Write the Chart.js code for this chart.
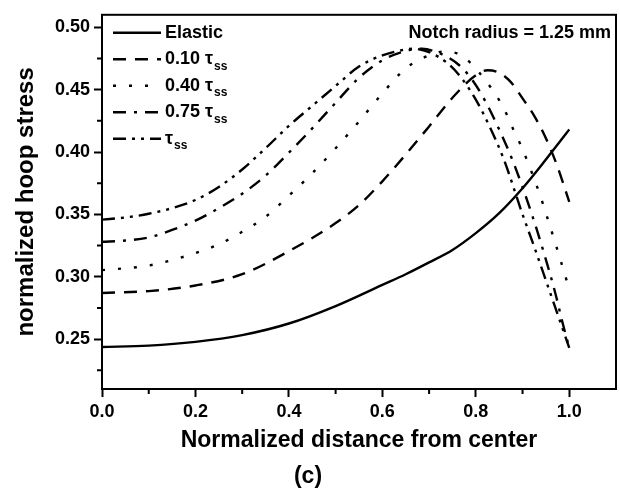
<!DOCTYPE html>
<html>
<head>
<meta charset="utf-8">
<script src="https://cdn.jsdelivr.net/npm/chart.js@4.4.0/dist/chart.umd.min.js"></script>
<style>
  html, body { margin: 0; padding: 0; background: #fff; }
</style>
</head>
<body>
<canvas id="hoop" width="620" height="489"></canvas>
<script>
// hoop stress profiles, one x/y pair per loading level
const xElastic = [0, 0.1, 0.2, 0.3, 0.4, 0.5, 0.6, 0.65, 0.7, 0.75, 0.8, 0.85, 0.9, 0.95, 1.0];
const yElastic = [0.2437, 0.2448, 0.2478, 0.2532, 0.2625, 0.2765, 0.2935, 0.302, 0.3115, 0.3215, 0.335, 0.351, 0.371, 0.394, 0.418];

const x010 = [0, 0.1, 0.2, 0.3, 0.4, 0.5, 0.55, 0.6, 0.65, 0.7, 0.75, 0.8, 0.825, 0.85, 0.875, 0.9, 0.925, 0.95, 0.975, 1.0];
const y010 = [0.287, 0.2885, 0.293, 0.302, 0.3205, 0.343, 0.3575, 0.3765, 0.398, 0.4205, 0.4435, 0.4615, 0.4655, 0.4635, 0.456, 0.443, 0.429, 0.411, 0.388, 0.36];

const x040 = [0, 0.1, 0.2, 0.25, 0.3, 0.35, 0.4, 0.45, 0.5, 0.55, 0.6, 0.65, 0.7, 0.73, 0.76, 0.79, 0.82, 0.845, 0.865, 0.88, 0.895, 0.91, 0.935, 0.955, 0.975, 1.0];
const y040 = [0.3053, 0.309, 0.319, 0.326, 0.336, 0.348, 0.365, 0.383, 0.403, 0.4245, 0.447, 0.467, 0.4775, 0.4805, 0.479, 0.471, 0.4577, 0.4446, 0.431, 0.4183, 0.4064, 0.393, 0.368, 0.345, 0.321, 0.29];

const x075 = [0, 0.05, 0.1, 0.15, 0.2, 0.25, 0.3, 0.35, 0.4, 0.45, 0.5, 0.55, 0.6, 0.65, 0.685, 0.72, 0.76, 0.79, 0.82, 0.85, 0.88, 0.92, 0.945, 0.97, 0.985, 1.0];
const y075 = [0.328, 0.329, 0.3315, 0.3375, 0.345, 0.355, 0.3665, 0.381, 0.3995, 0.419, 0.4395, 0.4595, 0.4735, 0.481, 0.4828, 0.4795, 0.471, 0.459, 0.441, 0.418, 0.392, 0.35, 0.32, 0.287, 0.264, 0.243];

const xTss = [0, 0.05, 0.1, 0.15, 0.2, 0.25, 0.3, 0.35, 0.4, 0.45, 0.5, 0.55, 0.6, 0.64, 0.665, 0.7, 0.74, 0.77, 0.8, 0.83, 0.86, 0.9, 0.925, 0.95, 0.975, 1.0];
const yTss = [0.3458, 0.3475, 0.3505, 0.355, 0.3615, 0.372, 0.386, 0.403, 0.421, 0.437, 0.453, 0.4685, 0.4775, 0.4815, 0.4828, 0.48, 0.471, 0.459, 0.442, 0.42, 0.394, 0.35, 0.324, 0.297, 0.27, 0.243];

// legend text: prefix, and whether it carries the tau_ss symbol
const legendPrefix = ["Elastic", "0.10 ", "0.40 ", "0.75 ", ""];
const legendTau = [false, true, true, true, true];
const notchText = "Notch radius = 1.25 mm";

const xMajor = [0, 0.2, 0.4, 0.6, 0.8, 1.0];
const xMinor = [0.1, 0.3, 0.5, 0.7, 0.9];
const yMajor = [0.25, 0.30, 0.35, 0.40, 0.45, 0.50];
const yMinor = [0.225, 0.275, 0.325, 0.375, 0.425, 0.475];

const FONT = '"Liberation Sans", Arial, sans-serif';
const pts = (xs, ys) => xs.map((x, i) => ({ x, y: ys[i] }));

const dashes = [[], [13, 9], [3, 13], [13, 8, 3, 8], [13, 6, 3, 6, 3, 6]];
const series = [[xElastic, yElastic], [x010, y010], [x040, y040], [x075, y075], [xTss, yTss]];

const datasets = series.map(([xs, ys], i) => ({
  label: legendPrefix[i] + (legendTau[i] ? "τss" : ""),
  data: pts(xs, ys),
  borderColor: "#000",
  borderWidth: 2.4,
  borderDash: dashes[i],
  borderCapStyle: "butt",
  pointRadius: 0,
  fill: false,
  cubicInterpolationMode: "monotone",
}));

// minor ticks are shorter than the major ones
const minorTicks = {
  id: "minorTicks",
  afterDraw(chart) {
    const { ctx, chartArea: a, scales } = chart;
    ctx.save();
    ctx.strokeStyle = "#000";
    ctx.lineWidth = 2;
    ctx.beginPath();
    for (const v of xMinor) {
      const px = scales.x.getPixelForValue(v);
      ctx.moveTo(px, a.bottom);
      ctx.lineTo(px, a.bottom + 5);
    }
    for (const v of yMinor) {
      const py = scales.y.getPixelForValue(v);
      ctx.moveTo(a.left, py);
      ctx.lineTo(a.left - 5, py);
    }
    ctx.stroke();
    ctx.restore();
  },
};

// closed box around the plot
const frame = {
  id: "frame",
  afterDraw(chart) {
    const { ctx, chartArea: a } = chart;
    ctx.save();
    ctx.strokeStyle = "#000";
    ctx.lineWidth = 2;
    ctx.strokeRect(a.left, a.top, a.right - a.left, a.bottom - a.top);
    ctx.restore();
  },
};

// legend with subscripted tau_ss, plus the notch note
const legendBox = {
  id: "legendBox",
  afterDraw(chart) {
    const { ctx, chartArea: a } = chart;
    ctx.save();
    ctx.fillStyle = "#000";
    ctx.strokeStyle = "#000";
    ctx.textBaseline = "middle";
    chart.data.datasets.forEach((ds, i) => {
      const y = a.top + 18 + i * 26.5;
      ctx.lineWidth = ds.borderWidth;
      ctx.setLineDash(ds.borderDash);
      ctx.beginPath();
      ctx.moveTo(a.left + 11, y);
      ctx.lineTo(a.left + 59, y);
      ctx.stroke();
      ctx.setLineDash([]);
      let x = a.left + 63;
      ctx.font = "bold 18px " + FONT;
      ctx.fillText(legendPrefix[i], x, y);
      x += ctx.measureText(legendPrefix[i]).width;
      if (legendTau[i]) {
        ctx.fillText("τ", x, y);
        x += ctx.measureText("τ").width + 1;
        ctx.font = "bold 12px " + FONT;
        ctx.fillText("ss", x, y + 7);
      }
    });
    ctx.font = "bold 18px " + FONT;
    ctx.textAlign = "right";
    ctx.fillText(notchText, a.right - 5, a.top + 18);
    ctx.restore();
  },
};

Chart.defaults.font.family = FONT;
Chart.defaults.font.weight = "bold";
Chart.defaults.color = "#000";

new Chart(document.getElementById("hoop"), {
  type: "line",
  data: { datasets },
  plugins: [minorTicks, frame, legendBox],
  options: {
    responsive: false,
    animation: false,
    layout: { padding: { top: 9, right: 4, left: 0, bottom: 0 } },
    plugins: {
      legend: { display: false },
      tooltip: { enabled: false },
      title: {
        display: true,
        position: "bottom",
        text: "(c)",
        font: { size: 23, weight: "bold", lineHeight: 1.0 },
        padding: { top: 0, bottom: 1 },
        color: "#000",
      },
    },
    scales: {
      x: {
        type: "linear",
        min: 0,
        max: 1.1,
        afterBuildTicks: (s) => { s.ticks = xMajor.map((v) => ({ value: v })); },
        afterFit: (s) => { s.height = 76; },
        ticks: {
          autoSkip: false,
          maxRotation: 0,
          padding: 4,
          font: { size: 18, weight: "bold" },
          callback: (v) => Number(v).toFixed(1),
        },
        grid: { drawOnChartArea: false, tickLength: 8, tickWidth: 2, tickColor: "#000" },
        border: { display: true, width: 2, color: "#000" },
        title: {
          display: true,
          text: "Normalized distance from center",
          font: { size: 23, weight: "bold", lineHeight: 1.2 },
          padding: { top: 0, bottom: 11 },
        },
      },
      y: {
        type: "linear",
        min: 0.21,
        max: 0.51,
        afterBuildTicks: (s) => { s.ticks = yMajor.map((v) => ({ value: v })); },
        afterFit: (s) => { s.width = 102; },
        ticks: {
          autoSkip: false,
          padding: 4,
          font: { size: 18, weight: "bold" },
          callback: (v) => Number(v).toFixed(2),
        },
        grid: { drawOnChartArea: false, tickLength: 8, tickWidth: 2, tickColor: "#000" },
        border: { display: true, width: 2, color: "#000" },
        title: {
          display: true,
          text: "normalized hoop stress",
          font: { size: 24, weight: "bold", lineHeight: 1.2 },
          padding: { top: 12, bottom: 0 },
        },
      },
    },
  },
});
</script>
</body>
</html>
